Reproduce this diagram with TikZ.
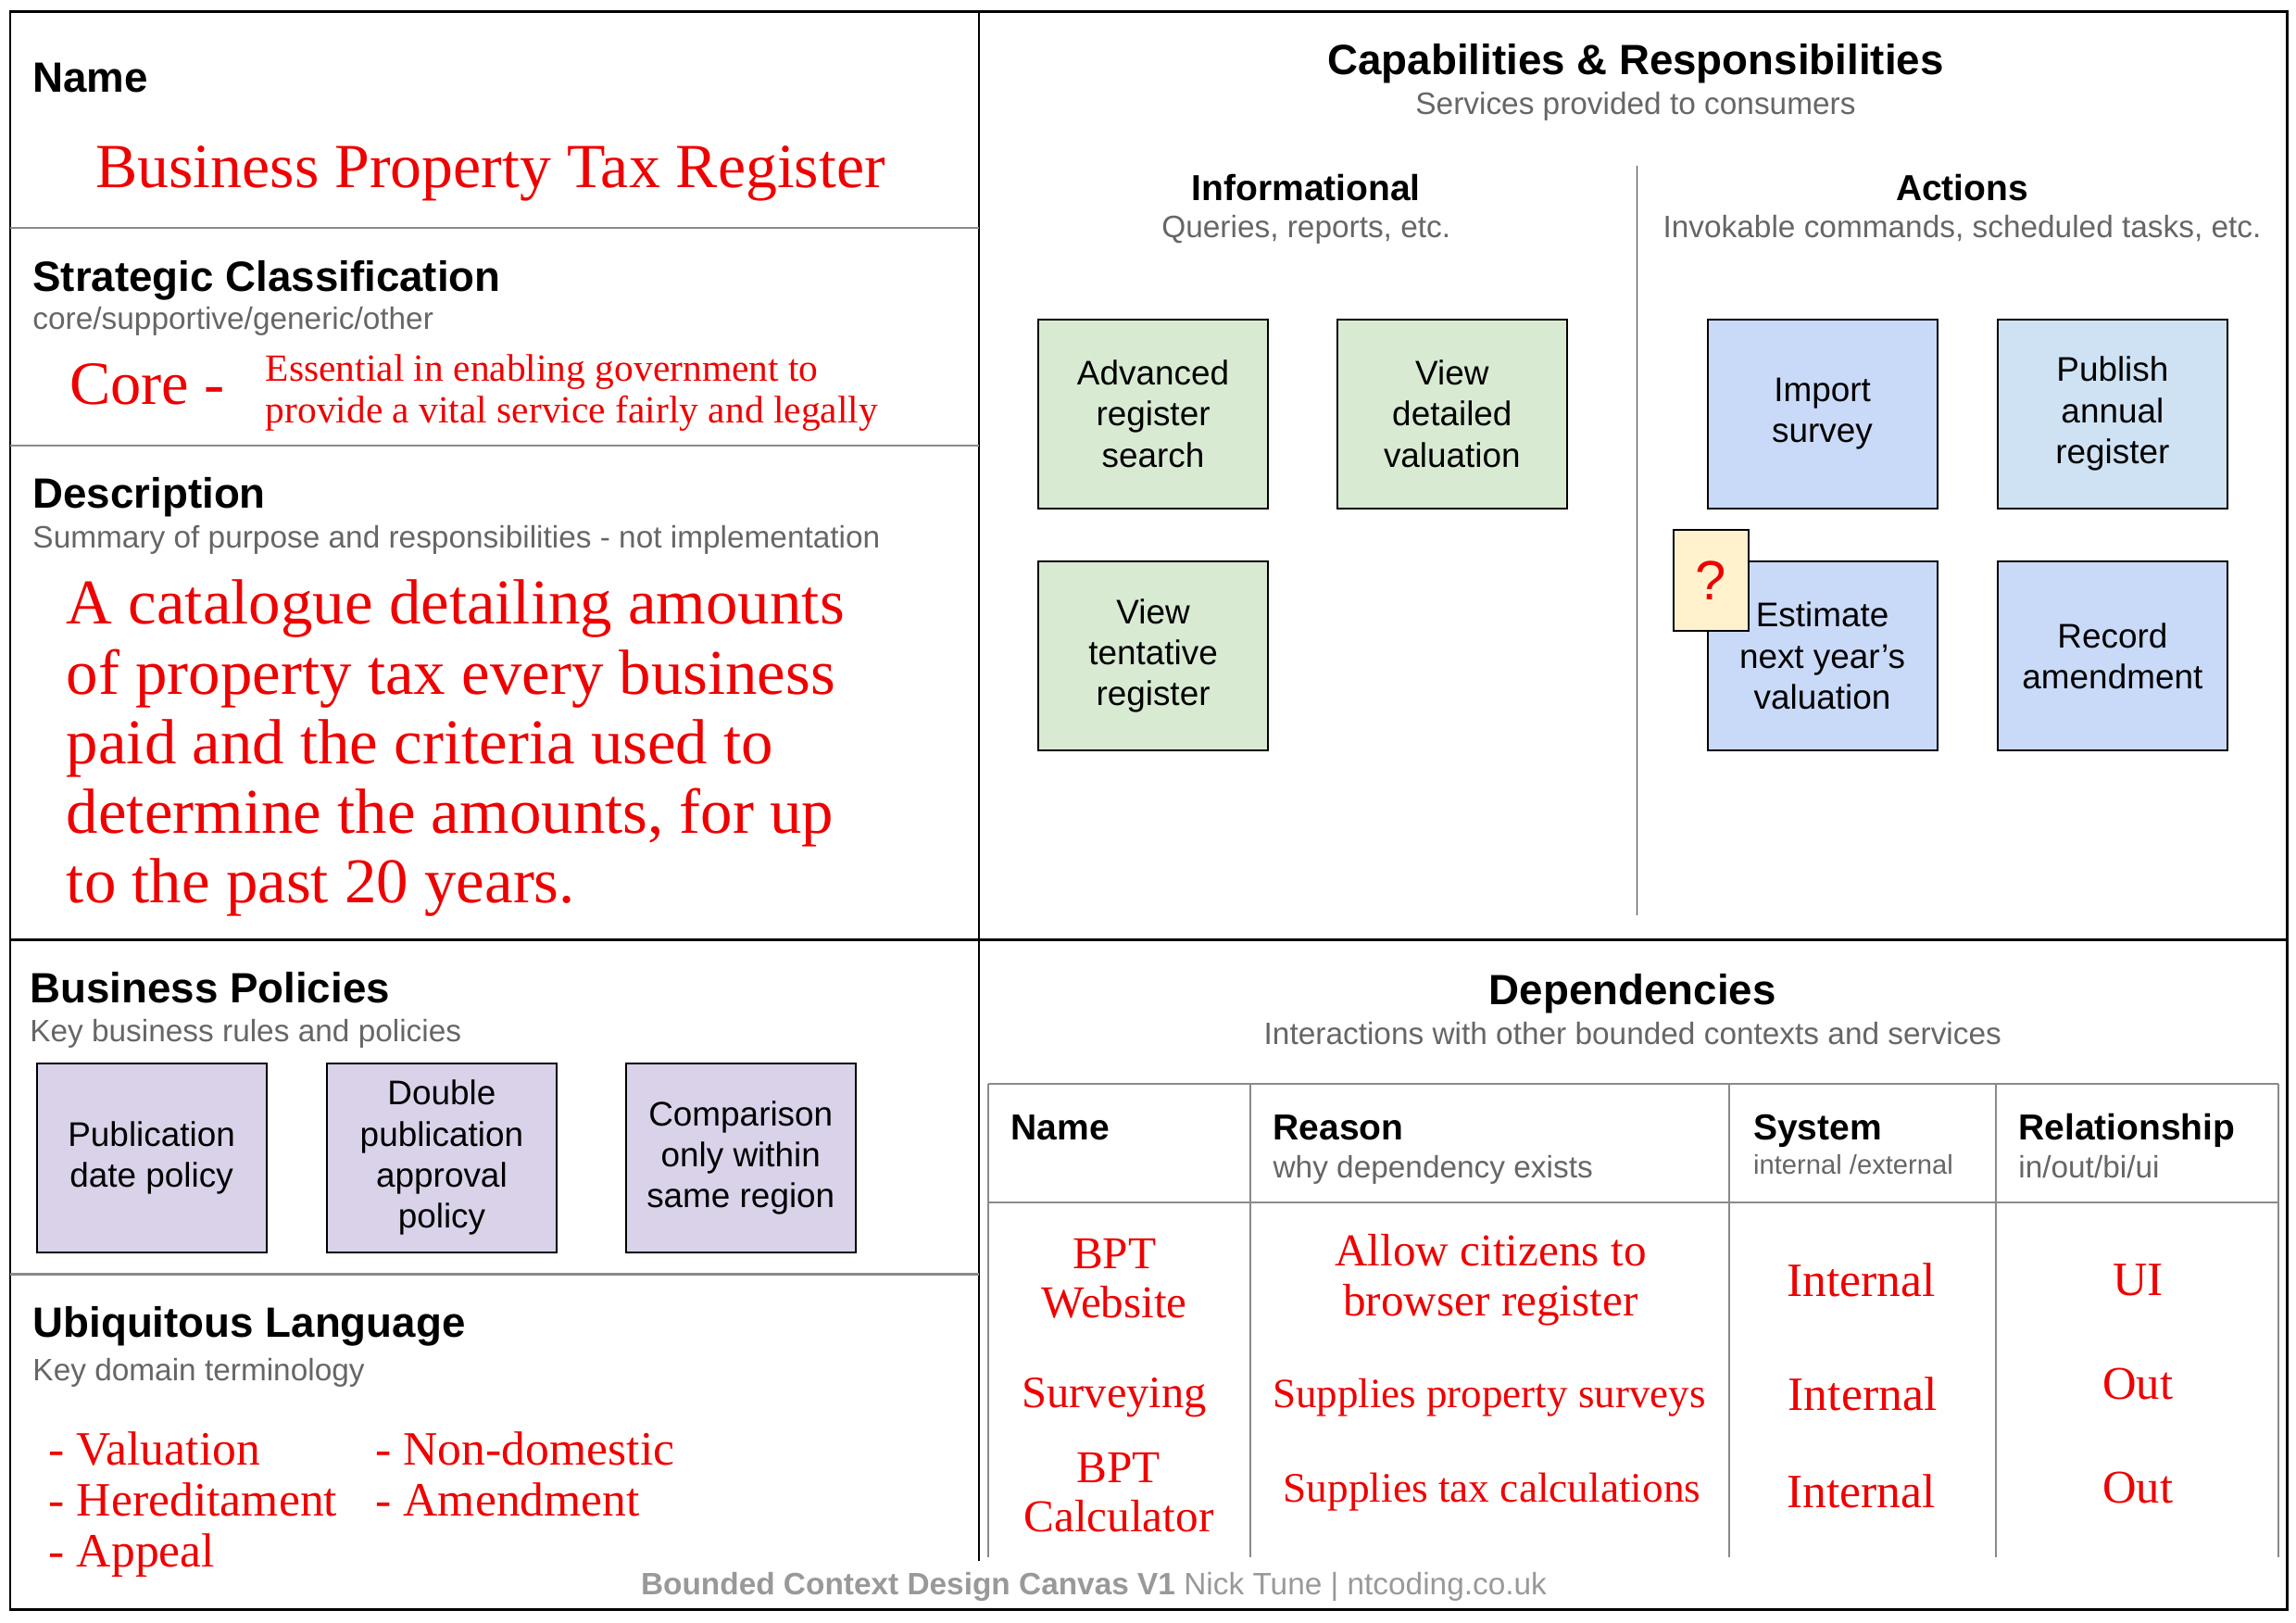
\documentclass[tikz,border=0pt]{standalone}
\usepackage{fontspec}
\setmainfont{Liberation Serif}
\setsansfont{Liberation Sans}
\usetikzlibrary{positioning}

\definecolor{inkred}{HTML}{EE0000}
\definecolor{infogreen}{HTML}{D9EAD3}
\definecolor{actblue}{HTML}{C9DAF8}
\definecolor{actpale}{HTML}{CFE2F3}
\definecolor{policylilac}{HTML}{D9D2E9}
\definecolor{stickyyellow}{HTML}{FFF2CC}
\definecolor{subgray}{HTML}{666666}
\definecolor{rulegray}{HTML}{8A8A8A}
\definecolor{footgray}{HTML}{999999}

\begin{document}
\begin{tikzpicture}[
  x=0.1581mm, y=-0.1581mm,
  sechead/.style={font=\sffamily\bfseries\fontsize{13}{15}\selectfont, inner sep=0pt},
  colhead/.style={font=\sffamily\bfseries\fontsize{11.1}{13}\selectfont, inner sep=0pt},
  secsub/.style={font=\sffamily\fontsize{9.5}{11}\selectfont, text=subgray, inner sep=0pt},
  ink/.style 2 args={text=inkred, inner sep=0pt, align=center, font=\rmfamily\fontsize{#1}{#2}\selectfont},
  card/.style={rectangle, draw=black, line width=0.6pt, minimum width=24.8mm,
               minimum height=20.4mm, align=center, inner sep=2pt,
               font=\sffamily\fontsize{10.5}{12.6}\selectfont},
  sticky/.style={rectangle, draw=black, line width=0.6pt, fill=stickyyellow,
                 minimum width=8.06mm, minimum height=10.9mm, inner sep=0pt,
                 text=inkred, font=\sffamily\fontsize{17}{17}\selectfont},
  panelline/.style={line width=0.8pt, draw=black},
  gridline/.style={line width=0.6pt, draw=rulegray}]
  \useasboundingbox (0,0) rectangle (1568,1108);

  % canvas frame
  \draw[panelline] (7,8) rectangle (1562,1099);
  \draw[panelline] (668.5,8) -- (668.5,1066);
  \draw[panelline] (7,641.5) -- (1562,641.5);
  \draw[gridline] (7,155.5) -- (668.5,155.5);
  \draw[gridline] (7,304) -- (668.5,304);
  \draw[gridline] (7,870) -- (668.5,870);
  \draw[line width=0.5pt, black!75] (1118,113) -- (1118,625);

  % name
  \node[sechead, anchor=base west] (name) at (22,63) {Name};
  \node[ink={19.3}{22}, anchor=base] (bcname) at (335,128) {Business Property Tax Register};

  % strategic classification
  \node[sechead, anchor=base west] (strat) at (22,199) {Strategic Classification};
  \node[secsub, anchor=base west] (stratsub) at (22,225) {core/supportive/generic/other};
  \node[ink={18.9}{22}, anchor=base west] (core) at (47,276) {Core -};
  \node[ink={11.8}{13}, align=left, anchor=base west] (coretxt) at (181,289)
    {Essential in enabling government to\\provide a vital service fairly and legally};

  % description
  \node[sechead, anchor=base west] (desc) at (22,347) {Description};
  \node[secsub, anchor=base west] (descsub) at (22,374)
    {Summary of purpose and responsibilities - not implementation};
  \node[ink={19.6}{21.4}, align=left, anchor=base west] (desctxt) at (45,616.5)
    {A catalogue detailing amounts\\of property tax every business\\paid and the criteria used to\\determine the amounts, for up\\to the past 20 years.};

  % business policies
  \node[sechead, anchor=base west] (pol) at (20,685) {Business Policies};
  \node[secsub, anchor=base west] (polsub) at (20,711) {Key business rules and policies};
  \node[card, fill=policylilac] (pubdate) at (103.5,790.5) {Publication\\date policy};
  \node[card, fill=policylilac, right=6.32mm of pubdate] (doublepub) {Double\\publication\\approval\\policy};
  \node[card, fill=policylilac, right=7.27mm of doublepub] (sameregion) {Comparison\\only within\\same region};

  % ubiquitous language
  \node[sechead, anchor=base west] (ul) at (22,913) {Ubiquitous Language};
  \node[secsub, anchor=base west] (ulsub) at (22,943) {Key domain terminology};
  \node[ink={14.7}{15.7}, align=left, anchor=base west] (terms1) at (33,1070)
    {- Valuation\\- Hereditament\\- Appeal};
  \node[ink={14.7}{15.7}, align=left, anchor=base west] (terms2) at (256,1035)
    {- Non-domestic\\- Amendment};

  % capabilities
  \node[sechead, anchor=base] (cap) at (1117,51) {Capabilities \& Responsibilities};
  \node[secsub, anchor=base] (capsub) at (1117,78) {Services provided to consumers};
  \node[colhead, anchor=base] (info) at (892,137) {Informational};
  \node[secsub, anchor=base] (infosub) at (892,162) {Queries, reports, etc.};
  \node[colhead, anchor=base] (act) at (1340,137) {Actions};
  \node[secsub, anchor=base] (actsub) at (1340,162) {Invokable commands, scheduled tasks, etc.};

  \node[card, fill=infogreen] (advsearch) at (787.5,282.5) {Advanced\\register\\search};
  \node[card, fill=infogreen, right=7.27mm of advsearch] (viewval) {View\\detailed\\valuation};
  \node[card, fill=infogreen, below=5.53mm of advsearch] (viewtent) {View\\tentative\\register};
  \node[card, fill=actblue] (import) at (1244.5,282.5) {Import\\survey};
  \node[card, fill=actpale, right=6.32mm of import] (publish) {Publish\\annual\\register};
  \node[card, fill=actblue, below=5.53mm of import] (estimate) {Estimate\\next year’s\\valuation};
  \node[card, fill=actblue, below=5.53mm of publish] (amend) {Record\\amendment};
  \node[sticky] (query) at (1168.5,396.5) {?};

  % dependencies
  \node[sechead, anchor=base] (deps) at (1115,686) {Dependencies};
  \node[secsub, anchor=base] (depssub) at (1115,713) {Interactions with other bounded contexts and services};
  \draw[gridline] (675,740) -- (1556,740);
  \draw[gridline] (675,821) -- (1556,821);
  \foreach \colx in {675,854,1181,1363,1556}
    \draw[gridline] (\colx,740) -- (\colx,1063);

  \node[colhead, anchor=base west] (hname) at (690,778) {Name};
  \node[colhead, anchor=base west] (hreason) at (869,778) {Reason};
  \node[secsub, anchor=base west] (hreasonsub) at (869,804) {why dependency exists};
  \node[colhead, anchor=base west] (hsys) at (1197,778) {System};
  \node[secsub, font=\sffamily\fontsize{8.3}{10}\selectfont, anchor=base west] (hsyssub) at (1197,802) {internal /external};
  \node[colhead, anchor=base west] (hrel) at (1378,778) {Relationship};
  \node[secsub, anchor=base west] (hrelsub) at (1378,804) {in/out/bi/ui};

  \node[ink={14}{15.3}] (bptweb) at (761,873) {BPT\\Website};
  \node[ink={14}{15.3}] (webwhy) at (1018,874) {Allow citizens to\\browser register};
  \node[ink={14.7}{16}] (websys) at (1271,874) {Internal};
  \node[ink={14.7}{16}] (webrel) at (1460,874) {UI};

  \node[ink={13.8}{16}] (survey) at (761,954) {Surveying};
  \node[ink={12.8}{16}] (surveywhy) at (1017,954) {Supplies property surveys};
  \node[ink={14.7}{16}] (surveysys) at (1272,952) {Internal};
  \node[ink={14.4}{16}] (surveyrel) at (1460,945) {Out};

  \node[ink={14}{15.3}] (bptcalc) at (764,1019) {BPT\\Calculator};
  \node[ink={12.9}{16}] (calcwhy) at (1019,1019) {Supplies tax calculations};
  \node[ink={14.7}{16}] (calcsys) at (1271,1018) {Internal};
  \node[ink={14.4}{16}] (calcrel) at (1460,1016) {Out};

  % footer
  \node[anchor=base, inner sep=0pt, text=footgray, font=\sffamily\fontsize{9.5}{11}\selectfont] (credit) at (747,1089)
    {\textbf{Bounded Context Design Canvas V1} Nick Tune | ntcoding.co.uk};
\end{tikzpicture}
\end{document}
